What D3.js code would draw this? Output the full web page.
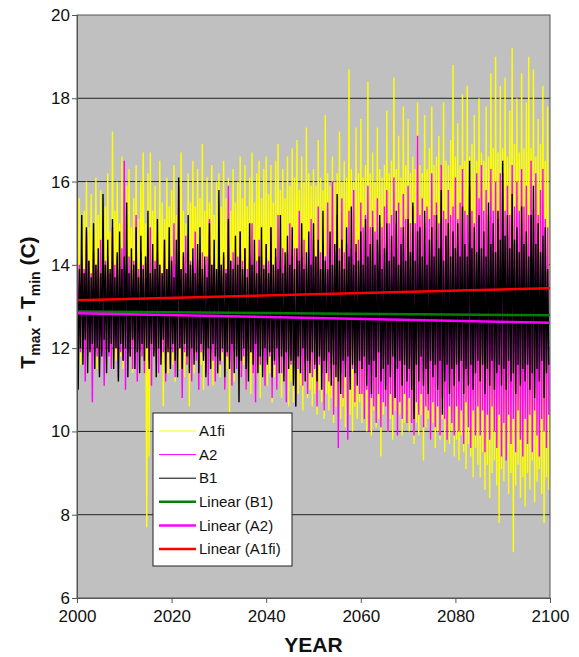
<!DOCTYPE html>
<html>
<head>
<meta charset="utf-8">
<script src="https://cdn.jsdelivr.net/npm/d3@7"></script>
<style>
  body { margin: 0; background: #fff; }
  svg text { font-family: "Liberation Sans", Arial, sans-serif; }
</style>
</head>
<body>
<svg id="chart" width="579" height="657"></svg>
<script>
// two samples per year: a high then a low, 2000.0 .. 2099.5
var b1High = [
  14.6, 13.9, 15.2, 13.8, 14.9, 14.1, 13.7, 15.0, 14.0, 14.4,
  13.8, 15.7, 14.0, 14.6, 13.9, 15.1, 13.7, 14.3, 14.8, 13.9,
  14.2, 15.5, 13.8, 14.4, 14.0, 14.9, 13.7, 14.7, 13.9, 14.2,
  15.3, 13.8, 14.5, 13.9, 15.1, 14.0, 13.8, 14.6, 13.9, 14.9,
  14.1, 13.7, 14.6, 16.1, 13.9, 14.3, 13.8, 15.2, 14.0, 14.4,
  13.8, 14.5, 14.9, 13.9, 14.2, 13.7, 15.0, 14.0, 14.6, 13.9,
  15.8, 14.0, 14.3, 13.8, 15.1, 14.1, 13.9, 14.7, 14.0, 14.8,
  13.9, 14.4, 13.7, 15.0, 14.0, 14.6, 13.8, 14.2, 14.9, 13.9,
  14.5, 13.8, 14.9, 14.0, 14.4, 13.9, 15.2, 13.8, 14.3, 14.7,
  14.0, 14.9, 13.9, 14.4, 14.1, 15.0, 13.9, 14.3, 14.8, 14.0,
  15.0, 14.2, 14.6, 13.9, 15.3, 14.1, 13.9, 14.8, 14.0, 14.5,
  15.7, 14.1, 14.6, 13.9, 14.9, 14.2, 15.4, 14.0, 14.5, 14.1,
  14.8, 14.0, 15.1, 14.2, 14.5, 14.9, 14.0, 14.6, 15.2, 13.9,
  14.4, 15.0, 14.1, 14.7, 14.2, 15.3, 14.0, 14.5, 14.9, 14.1,
  15.1, 14.3, 15.5, 14.1, 14.8, 14.9, 14.2, 15.3, 14.0, 14.6,
  14.9, 14.2, 15.2, 14.4, 15.8, 14.1, 14.7, 15.0, 14.2, 14.8,
  14.4, 15.0, 14.2, 15.4, 14.5, 14.2, 16.5, 14.4, 14.9, 14.3,
  15.2, 14.4, 14.8, 14.2, 15.5, 14.5, 15.0, 14.3, 15.3, 14.6,
  16.5, 14.7, 15.2, 14.4, 15.7, 14.6, 14.9, 14.3, 15.4, 14.5,
  14.8, 14.2, 15.2, 15.9, 14.5, 15.0, 14.3, 14.7, 14.9, 13.9
];
var b1Low = [
  11.0, 12.0, 11.6, 12.2, 11.4, 11.9, 12.1, 11.5, 12.0, 11.3,
  11.8, 12.2, 11.4, 11.9, 12.1, 11.5, 12.0, 11.2, 12.1, 11.7,
  12.0, 11.3, 11.8, 12.2, 11.5, 11.9, 11.4, 12.1, 11.7, 12.0,
  11.5, 12.1, 11.8, 11.3, 12.0, 11.6, 12.2, 11.4, 11.9, 11.5,
  12.1, 11.7, 11.3, 12.0, 11.5, 12.1, 11.8, 11.4, 12.0, 11.6,
  11.9, 11.4, 12.1, 11.7, 11.3, 12.0, 11.5, 12.1, 11.8, 11.4,
  11.7, 12.0, 11.3, 11.9, 11.5, 12.1, 11.4, 11.8, 10.7, 11.7,
  12.0, 11.5, 11.2, 11.9, 11.6, 12.1, 11.4, 11.8, 11.3, 12.0,
  11.6, 11.9, 11.3, 11.7, 12.0, 11.4, 11.8, 11.2, 11.9, 11.5,
  11.7, 11.1, 10.6, 11.8, 11.4, 12.0, 11.2, 11.7, 11.4, 11.9,
  11.6, 11.2, 11.8, 11.0, 11.7, 11.4, 11.9, 11.1, 11.6, 11.3,
  11.2, 10.9, 11.7, 11.3, 11.8, 11.0, 11.6, 11.4, 11.1, 11.7,
  11.5, 11.8, 11.1, 11.6, 10.9, 11.7, 11.3, 11.9, 11.2, 11.5,
  11.0, 11.6, 11.3, 11.8, 10.8, 11.5, 11.7, 11.1, 11.6, 11.2,
  11.5, 11.0, 10.3, 11.6, 11.2, 11.8, 11.1, 11.5, 10.9, 11.7,
  11.3, 11.6, 11.0, 11.7, 10.4, 11.2, 11.6, 10.9, 11.5, 11.1,
  11.6, 11.2, 11.7, 10.9, 11.5, 11.1, 11.6, 11.0, 11.4, 11.7,
  11.2, 11.6, 10.9, 11.5, 11.1, 11.7, 11.0, 11.4, 11.6, 11.1,
  11.5, 11.0, 11.7, 11.2, 11.4, 10.9, 11.6, 11.1, 11.5, 11.2,
  11.6, 11.0, 11.4, 10.8, 11.5, 11.2, 11.7, 10.8, 11.4, 11.6
];
var a2High = [
  15.3, 14.0, 14.2, 13.9, 14.8, 14.1, 13.8, 14.3, 14.0, 13.9,
  14.6, 13.9, 14.1, 14.2, 13.8, 14.9, 14.0, 14.2, 13.9, 14.4,
  16.5, 14.0, 14.2, 13.9, 14.1, 15.2, 13.9, 14.3, 14.0, 14.2,
  14.0, 14.9, 13.9, 14.1, 14.3, 14.0, 13.8, 14.6, 13.9, 14.1,
  14.2, 15.0, 14.0, 15.9, 13.9, 14.2, 14.7, 14.0, 14.1, 13.9,
  14.8, 14.1, 13.9, 14.3, 14.0, 14.2, 15.1, 14.0, 14.1, 13.9,
  14.6, 14.0, 14.2, 13.9, 15.9, 14.1, 14.3, 14.0, 14.2, 14.8,
  14.1, 14.4, 13.9, 14.2, 15.0, 14.0, 14.1, 14.6, 14.2, 14.0,
  14.5, 14.1, 14.9, 14.0, 14.2, 15.2, 14.1, 14.4, 14.0, 14.3,
  15.0, 14.2, 14.4, 14.1, 15.3, 14.2, 14.6, 14.0, 14.3, 15.1,
  14.6, 14.2, 15.4, 14.3, 14.5, 14.2, 15.5, 14.4, 16.0, 14.3,
  15.2, 14.4, 15.6, 14.3, 14.5, 15.3, 14.4, 15.8, 14.3, 14.6,
  15.5, 14.9, 15.2, 15.9, 14.9, 15.3, 14.8, 15.6, 15.0, 14.9,
  15.4, 15.8, 15.0, 15.2, 16.1, 15.0, 15.5, 14.9, 15.7, 15.1,
  15.9, 15.0, 15.4, 15.0, 17.1, 15.2, 15.6, 15.0, 15.4, 15.1,
  16.2, 15.2, 15.5, 15.0, 16.4, 15.3, 15.1, 15.8, 15.2, 15.4,
  16.1, 15.1, 15.5, 16.3, 15.3, 15.2, 15.9, 15.3, 15.0, 16.2,
  15.6, 16.4, 15.3, 15.8, 15.2, 16.3, 15.3, 16.0, 15.1, 16.2,
  16.2, 15.3, 15.9, 15.2, 16.4, 15.4, 16.0, 15.3, 16.3, 15.4,
  15.9, 15.2, 16.5, 15.3, 16.2, 15.2, 15.8, 16.3, 15.1, 14.9
];
var a2Low = [
  11.6, 11.9, 12.0, 11.2, 11.8, 12.0, 10.7, 11.9, 11.8, 11.4,
  11.9, 11.1, 12.0, 11.8, 11.5, 11.9, 12.0, 11.3, 11.9, 11.7,
  11.0, 11.9, 11.8, 11.5, 12.0, 11.2, 11.9, 11.8, 11.4, 12.0,
  11.7, 11.1, 11.9, 12.0, 11.4, 11.8, 11.9, 11.2, 12.0, 11.6,
  11.9, 11.3, 11.8, 12.0, 10.8, 11.9, 11.6, 11.8, 11.2, 11.9,
  11.7, 11.0, 11.9, 11.8, 11.4, 11.1, 11.9, 11.7, 11.2, 11.8,
  11.6, 11.9, 11.0, 11.8, 11.7, 11.1, 11.9, 11.5, 11.8, 11.3,
  11.8, 11.0, 11.7, 11.9, 11.4, 10.7, 11.8, 11.6, 11.9, 11.1,
  11.7, 11.8, 10.8, 11.6, 11.0, 11.8, 11.4, 11.7, 10.7, 11.8,
  11.6, 11.7, 10.6, 11.5, 11.8, 11.1, 11.6, 10.9, 11.7, 11.3,
  11.5, 10.6, 11.6, 11.4, 10.5, 11.7, 11.2, 11.5, 10.4, 11.6,
  9.6, 11.4, 10.8, 11.6, 9.8, 11.3, 11.5, 10.7, 11.4, 10.9,
  10.9, 10.3, 11.0, 10.0, 10.8, 10.6, 10.2, 10.9, 10.1, 10.7,
  10.6, 10.0, 10.9, 10.4, 10.8, 9.9, 10.7, 10.3, 10.9, 10.2,
  10.8, 10.2, 9.9, 10.7, 10.4, 10.9, 10.1, 10.6, 10.5, 9.8,
  10.7, 10.1, 10.6, 9.9, 10.8, 10.3, 9.8, 10.6, 10.2, 9.9,
  10.6, 10.0, 10.5, 9.7, 10.7, 10.1, 9.6, 10.5, 9.9, 10.6,
  9.9, 10.5, 9.5, 10.4, 9.8, 10.6, 10.0, 9.6, 10.4, 9.4,
  10.2, 9.3, 10.4, 9.7, 10.3, 9.5, 10.5, 9.8, 9.4, 10.3,
  9.7, 10.4, 9.5, 10.5, 9.9, 9.4, 10.3, 10.0, 9.6, 10.4
];
var a1fiHigh = [
  15.0, 15.6, 14.6, 15.3, 16.0, 14.9, 15.7, 14.7, 16.1, 15.2,
  15.8, 14.9, 15.4, 16.2, 14.8, 17.2, 15.3, 16.0, 15.0, 16.6,
  15.2, 15.9, 16.3, 14.9, 15.6, 16.4, 15.1, 16.0, 16.7, 15.0,
  16.2, 16.7, 15.3, 15.9, 14.9, 16.5, 15.5, 15.1, 16.1, 15.4,
  15.8, 16.4, 15.2, 16.0, 16.7, 15.3, 15.0, 16.2, 15.5, 16.5,
  15.4, 16.3, 15.6, 16.9, 15.3, 16.1, 15.5, 16.4, 15.2, 16.0,
  16.2, 15.4, 16.5, 15.6, 16.1, 15.3, 16.3, 15.5, 16.0, 16.6,
  15.6, 16.4, 15.4, 16.1, 16.7, 15.5, 16.2, 16.5, 15.6, 16.3,
  16.6, 15.7, 16.4, 15.5, 16.5, 16.9, 15.8, 16.3, 15.6, 16.6,
  15.9, 16.8, 16.1, 17.0, 15.8, 16.6, 16.0, 17.3, 16.2, 15.9,
  16.3, 15.9, 17.0, 16.1, 15.8, 17.6, 16.2, 15.9, 16.6, 16.0,
  16.2, 17.2, 16.0, 16.5, 16.1, 18.7, 16.3, 16.0, 17.3, 16.2,
  17.5, 16.1, 16.4, 18.4, 16.2, 16.7, 16.0, 17.3, 16.3, 16.1,
  16.4, 17.7, 16.2, 16.5, 18.5, 16.3, 17.1, 16.1, 17.8, 16.4,
  17.5, 16.2, 16.6, 16.3, 17.9, 16.4, 16.2, 17.6, 16.3, 16.8,
  17.8, 16.4, 16.6, 17.1, 16.3, 17.9, 16.5, 16.4, 17.0, 18.8,
  16.6, 17.4, 16.4, 18.1, 16.5, 18.3, 16.6, 16.9, 17.6, 16.5,
  18.0, 16.7, 16.5, 17.8, 16.6, 18.6, 16.8, 19.0, 16.7, 18.3,
  16.8, 18.5, 16.6, 17.7, 19.2, 16.9, 18.0, 16.7, 18.6, 16.8,
  17.9, 19.0, 16.8, 18.7, 16.6, 17.5, 16.9, 18.3, 16.5, 17.8
];
var a1fiLow = [
  12.0, 11.6, 12.3, 11.8, 11.4, 12.1, 11.7, 12.2, 11.5, 11.9,
  12.2, 11.6, 11.9, 12.4, 11.5, 12.0, 11.7, 12.3, 11.8, 11.5,
  12.1, 11.7, 12.2, 11.4, 11.9, 12.0, 11.6, 12.2, 11.8, 7.7,
  9.4, 11.6, 12.0, 11.3, 11.8, 12.1, 10.6, 11.9, 11.4, 12.0,
  11.6, 11.2, 11.9, 11.5, 12.0, 11.3, 11.7, 10.6, 11.8, 11.4,
  11.9, 11.2, 11.6, 11.0, 11.8, 11.4, 11.7, 11.1, 11.5, 11.9,
  11.3, 11.7, 11.0, 11.5, 10.4, 11.6, 11.2, 11.8, 11.1, 11.4,
  11.6, 11.0, 11.4, 10.9, 11.7, 11.2, 11.5, 10.8, 11.3, 11.6,
  11.1, 11.4, 10.7, 11.3, 11.0, 11.5, 10.8, 11.2, 11.4, 10.6,
  11.2, 10.7, 11.3, 10.9, 11.1, 10.5, 11.2, 10.8, 11.0, 10.6,
  10.9, 10.4, 11.0, 10.7, 10.3, 10.9, 10.5, 10.8, 10.2, 10.6,
  10.8, 10.3, 10.6, 10.1, 10.7, 10.4, 10.0, 10.6, 10.3, 10.7,
  10.2, 10.6, 10.0, 10.4, 9.9, 10.5, 10.1, 10.3, 9.4, 10.4,
  10.6, 10.0, 10.3, 9.8, 10.5, 10.1, 10.4, 9.9, 10.2, 10.5,
  10.0, 10.3, 9.7, 10.2, 9.9, 10.4, 9.3, 10.1, 10.3, 9.8,
  10.2, 9.6, 10.0, 9.8, 10.3, 9.5, 10.1, 9.7, 10.0, 9.4,
  9.8, 9.3, 9.9, 9.5, 9.1, 9.7, 9.4, 8.9, 9.6, 9.2,
  8.9, 9.5, 8.6, 9.2, 8.4, 9.0, 9.3, 8.7, 7.8, 9.1,
  8.8, 9.4, 8.5, 9.0, 7.1, 8.7, 9.2, 8.4, 8.9, 8.2,
  9.0, 8.6, 9.3, 8.3, 8.8, 9.1, 8.5, 7.8, 8.9, 8.6
];
// linear trend values at 2000 and 2100
var trendYears = [2000, 2100];
var trendB1 = [12.88, 12.79];
var trendA2 = [12.84, 12.61];
var trendA1fi = [13.15, 13.44];

var yearTicks = [2000, 2020, 2040, 2060, 2080, 2100];
var valueTicks = [6, 8, 10, 12, 14, 16, 18, 20];

var margin = {top: 15, right: 29, bottom: 59, left: 77},
  width = 579 - margin.left - margin.right,
  height = 657 - margin.top - margin.bottom;

var svg = d3.select("#chart");
var g = svg.append("g")
  .attr("transform", "translate(" + margin.left + "," + margin.top + ")");

var x = d3.scaleLinear().domain([2000, 2100]).range([0, width]);
var y = d3.scaleLinear().domain([6, 20]).range([height, 0]);

g.append("rect")
  .attr("width", width)
  .attr("height", height)
  .attr("fill", "#c0c0c0");

g.append("clipPath").attr("id", "plot-clip")
  .append("rect").attr("width", width).attr("height", height);

// gridlines
g.selectAll(".grid")
  .data(valueTicks.filter((v) => v > 6 && v < 20))
  .enter().append("line")
    .attr("x1", 0)
    .attr("x2", width)
    .attr("y1", (d) => y(d))
    .attr("y2", (d) => y(d))
    .attr("stroke", "#222")
    .attr("stroke-width", 1);

function zigzag(highs, lows) {
  var pts = [];
  for (let i = 0; i < highs.length; i++) {
    var t = 2000 + i * 0.5;
    pts.push([t, highs[i]]);
    pts.push([t + 0.25, lows[i]]);
  }
  return pts;
}

var line = d3.line()
  .x((d) => x(d[0]))
  .y((d) => y(d[1]));

var series = [
  {name: "A1fi", color: "#ffff00", pts: zigzag(a1fiHigh, a1fiLow)},
  {name: "A2", color: "#ff00ff", pts: zigzag(a2High, a2Low)},
  {name: "B1", color: "#000000", pts: zigzag(b1High, b1Low)}
];

var plot = g.append("g").attr("clip-path", "url(#plot-clip)");

plot.selectAll(".series")
  .data(series)
  .enter().append("path")
    .attr("class", "series")
    .attr("d", (d) => line(d.pts))
    .attr("fill", "none")
    .attr("stroke", (d) => d.color)
    .attr("stroke-width", 1.4)
    .attr("stroke-linejoin", "bevel");

var trends = [
  {name: "Linear (B1)", color: "#008000", vals: trendB1},
  {name: "Linear (A2)", color: "#ff00ff", vals: trendA2},
  {name: "Linear (A1fi)", color: "#ff0000", vals: trendA1fi}
];

plot.selectAll(".trend")
  .data(trends)
  .enter().append("path")
    .attr("class", "trend")
    .attr("d", (d) => line(trendYears.map((yr, i) => [yr, d.vals[i]])))
    .attr("fill", "none")
    .attr("stroke", (d) => d.color)
    .attr("stroke-width", 2.5);

// frame
g.append("rect")
  .attr("width", width)
  .attr("height", height)
  .attr("fill", "none")
  .attr("stroke", "#555")
  .attr("stroke-width", 1);

var xAxis = d3.axisBottom(x).tickValues(yearTicks).tickFormat(d3.format("d")).tickSize(5);
var yAxis = d3.axisLeft(y).tickValues(valueTicks).tickSize(5);

var gx = g.append("g")
  .attr("transform", "translate(0," + height + ")")
  .call(xAxis);
var gy = g.append("g").call(yAxis);

[gx, gy].forEach((ax) => {
  ax.select(".domain").attr("stroke", "#555");
  ax.selectAll(".tick line").attr("stroke", "#555");
  ax.selectAll(".tick text")
    .attr("fill", "#111")
    .style("font-size", "17px");
});
gx.selectAll(".tick text").attr("dy", "0.95em");
gy.selectAll(".tick text").attr("x", -7);

svg.append("text")
  .attr("x", margin.left + width / 2)
  .attr("y", 652)
  .attr("text-anchor", "middle")
  .style("font-size", "21px")
  .style("font-weight", "bold")
  .attr("fill", "#111")
  .text("YEAR");

var yt = svg.append("text")
  .attr("transform", "translate(35," + (margin.top + height / 2 - 4) + ") rotate(-90)")
  .attr("text-anchor", "middle")
  .style("font-size", "21px")
  .style("font-weight", "bold")
  .attr("fill", "#111");
yt.append("tspan").text("T");
yt.append("tspan").attr("dy", 5).style("font-size", "14px").text("max");
yt.append("tspan").attr("dy", -5).text(" - T");
yt.append("tspan").attr("dy", 5).style("font-size", "14px").text("min");
yt.append("tspan").attr("dy", -5).text(" (C)");

// legend
var legend = svg.append("g").attr("transform", "translate(153,413)");
legend.append("rect")
  .attr("width", 139)
  .attr("height", 153)
  .attr("fill", "#fff")
  .attr("stroke", "#222")
  .attr("stroke-width", 1);

var legendItems = series.map((s) => ({name: s.name, color: s.color, w: 1}))
  .concat(trends.map((t) => ({name: t.name, color: t.color, w: 2.5})));

var item = legend.selectAll(".item")
  .data(legendItems)
  .enter().append("g")
    .attr("transform", (d, i) => "translate(0," + (18 + i * 23.6) + ")");
item.append("line")
  .attr("x1", 6).attr("x2", 43)
  .attr("stroke", (d) => d.color)
  .attr("stroke-width", (d) => d.w);
item.append("text")
  .attr("x", 46)
  .attr("dy", "0.35em")
  .style("font-size", "15px")
  .attr("fill", "#111")
  .text((d) => d.name);
</script>
</body>
</html>
